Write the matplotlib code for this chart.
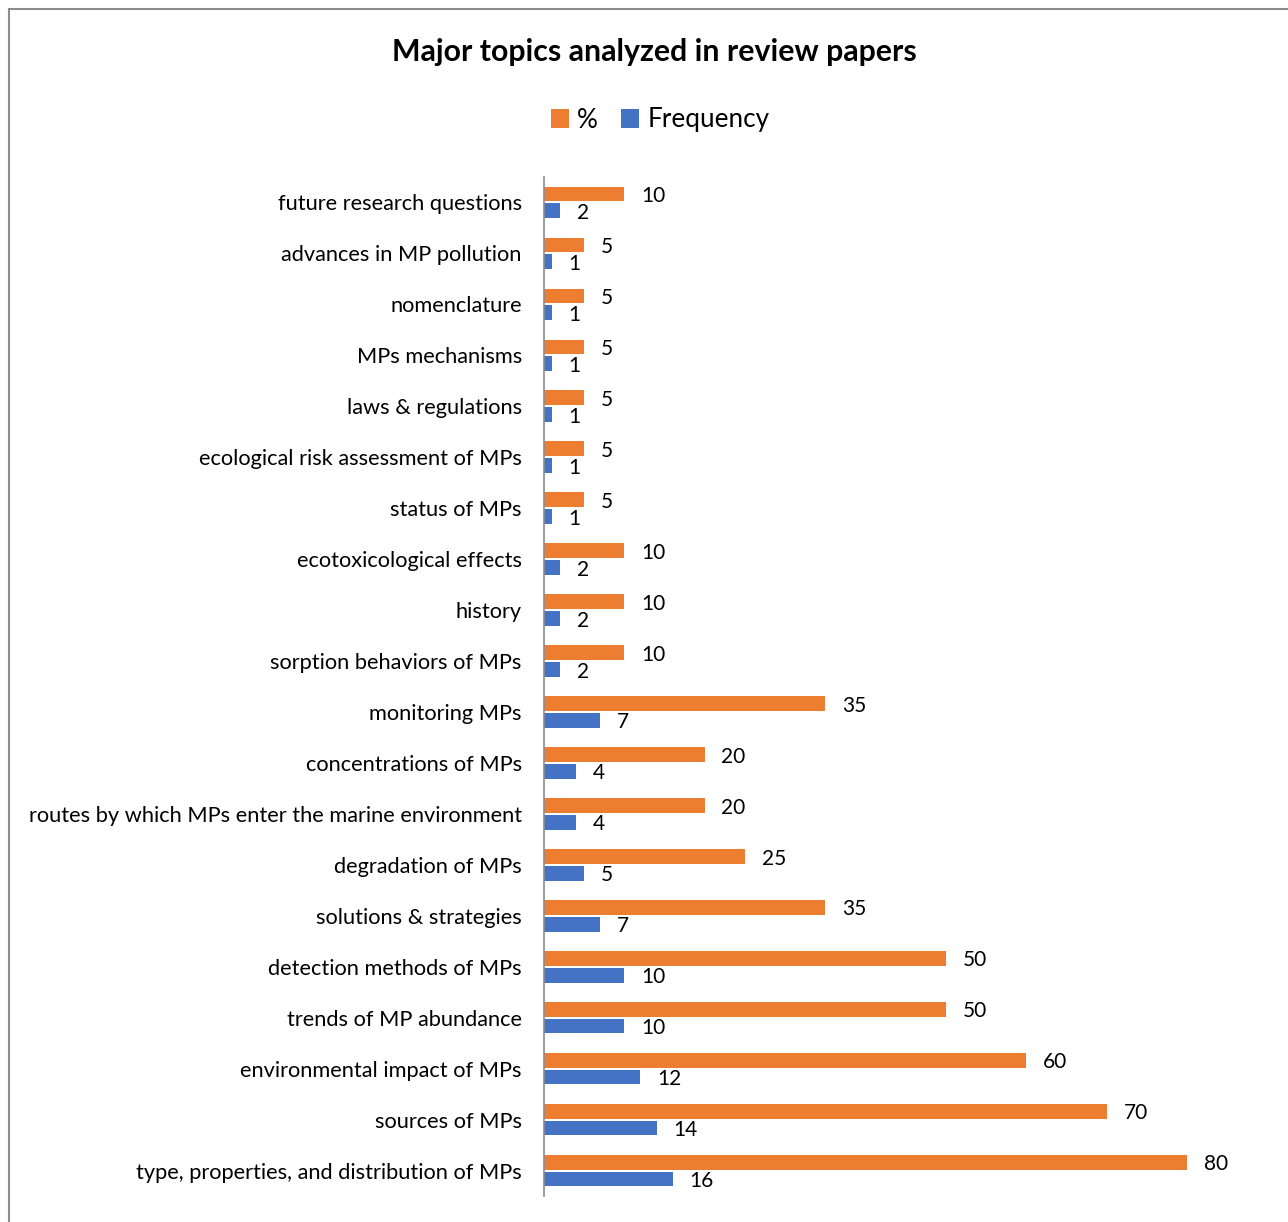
import numpy as np
import matplotlib.pyplot as plt
from matplotlib.patches import Rectangle

plt.rcParams['font.family'] = ['Lato', 'DejaVu Sans']

# top-to-bottom order as shown in the chart
topics = [
    'future research questions',
    'advances in MP pollution',
    'nomenclature',
    'MPs mechanisms',
    'laws & regulations',
    'ecological risk assessment of MPs',
    'status of MPs',
    'ecotoxicological effects',
    'history',
    'sorption behaviors of MPs',
    'monitoring MPs',
    'concentrations of MPs',
    'routes by which MPs enter the marine environment',
    'degradation of MPs',
    'solutions & strategies',
    'detection methods of MPs',
    'trends of MP abundance',
    'environmental impact of MPs',
    'sources of MPs',
    'type, properties, and distribution of MPs',
]
percent = [10, 5, 5, 5, 5, 5, 5, 10, 10, 10, 35, 20, 20, 25, 35, 50, 50, 60, 70, 80]
frequency = [2, 1, 1, 1, 1, 1, 1, 2, 2, 2, 7, 4, 4, 5, 7, 10, 10, 12, 14, 16]

W, H = 1288, 1222
fig = plt.figure(figsize=(W / 100, H / 100), dpi=100)
ax = fig.add_axes([544 / W, 1 - 1196 / H, (1250 - 544) / W, (1196 - 177) / H])

orange = '#ED7D31'
blue = '#4472C4'

n = len(topics)
y = np.arange(n)[::-1]
h = 0.29
off = 0.165

b1 = ax.barh(y + off, percent, height=h, color=orange, label='%')
b2 = ax.barh(y - off, frequency, height=h, color=blue, label='Frequency')

for bars, vals in ((b1, percent), (b2, frequency)):
    for bar, v in zip(bars, vals):
        ax.annotate(str(v), (bar.get_width(), bar.get_y() + bar.get_height() / 2),
                    xytext=(12, -1.5), textcoords='offset points',
                    ha='left', va='center', fontsize=15, color='#000000')

ax.set_xlim(0, 87.8)
ax.set_ylim(-0.5, n - 0.5)
ax.set_yticks(y)
ax.set_yticklabels(topics, fontsize=15.7)
ax.tick_params(axis='y', length=0, pad=16)
ax.set_xticks([])
for s in ('top', 'right', 'bottom'):
    ax.spines[s].set_visible(False)
ax.spines['left'].set_color('#8c8c8c')
ax.spines['left'].set_linewidth(1.2)

fig.text(654 / W, 1 - 52 / H, 'Major topics analyzed in review papers',
         ha='center', va='center', fontsize=21.8, fontweight='bold')

fig.legend(handles=[b1, b2], labels=['%', 'Frequency'], loc='center',
           bbox_to_anchor=(660 / W, 1 - 120 / H), ncol=2, frameon=False,
           fontsize=18.8, handlelength=0.7, handleheight=0.7,
           handletextpad=0.3, columnspacing=0.9)

fig.patches.append(Rectangle((9 / W, -0.01), 1.05, 1 - 9 / H + 0.01,
                             transform=fig.transFigure, fill=False,
                             edgecolor='#8c8c8c', linewidth=1.5))

fig.savefig('out.png', dpi=100)
